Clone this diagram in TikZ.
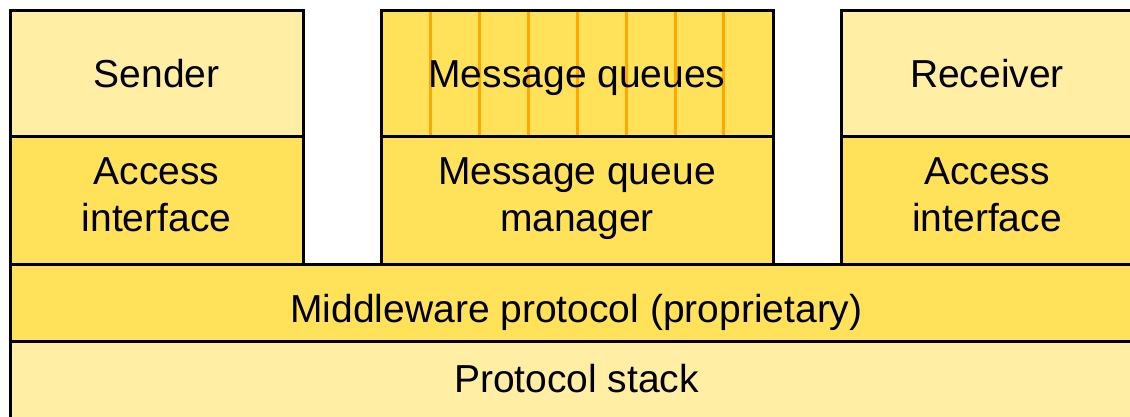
\documentclass[tikz,border=0pt]{standalone}
\usepackage{fontspec}
\setmainfont{Liberation Sans}
\definecolor{lightyel}{RGB}{255,238,163}
\definecolor{darkyel}{RGB}{255,226,90}
\definecolor{qline}{RGB}{255,168,0}
\newcommand{\topstrut}{\rule{0pt}{28pt}}
\newcommand{\botstrut}{\rule[-11.6pt]{0pt}{11.6pt}}
\begin{document}
\begin{tikzpicture}[x=1pt,y=-1pt,
  box/.style={draw=black,line width=3pt,rectangle,inner sep=0pt,outer sep=0pt,align=center,
    font=\fontsize{39}{47}\selectfont},
  oneline/.style={text height=28pt,text depth=0pt},
  lightbox/.style={box,fill=lightyel},
  darkbox/.style={box,fill=darkyel},
  qlinestyle/.style={draw=qline,line width=3pt}]
\useasboundingbox (0,0) rectangle (1130,416);
\clip (0,0) rectangle (1130,416);
\fill[white] (0,0) rectangle (1130,416);
% bottom layers
\node[lightbox,text height=23pt,text depth=0pt,minimum width=1133pt,minimum height=79pt] (stack) at (576.5,380.5) {Protocol stack};
\node[darkbox,text height=39pt,text depth=0pt,minimum width=1133pt,minimum height=77pt] (mw) at (576.5,302.5) {Middleware protocol (proprietary)};
% left column
\node[darkbox,minimum width=293pt,minimum height=128pt] (accl) at (156.5,200) {\topstrut Access\\interface\botstrut};
\node[lightbox,oneline,minimum width=293pt,minimum height=126pt] (sender) at (156.5,73) {Sender};
% middle column
\node[darkbox,minimum width=392pt,minimum height=128pt] (mgr) at (577,200) {\topstrut Message queue\\manager\botstrut};
\fill[darkyel] (381,10) rectangle (773,136);
\foreach \x in {430,479,528,577,626,675,723}
  \draw[qlinestyle] (\x,10) -- (\x,136);
\node[box,oneline,minimum width=392pt,minimum height=126pt] (queues) at (577,73) {Message queues};
% right column
\node[darkbox,minimum width=292pt,minimum height=128pt] (accr) at (987,200) {\topstrut Access\\interface\botstrut};
\node[lightbox,oneline,minimum width=292pt,minimum height=126pt] (receiver) at (987,73) {Receiver};
\end{tikzpicture}
\end{document}
